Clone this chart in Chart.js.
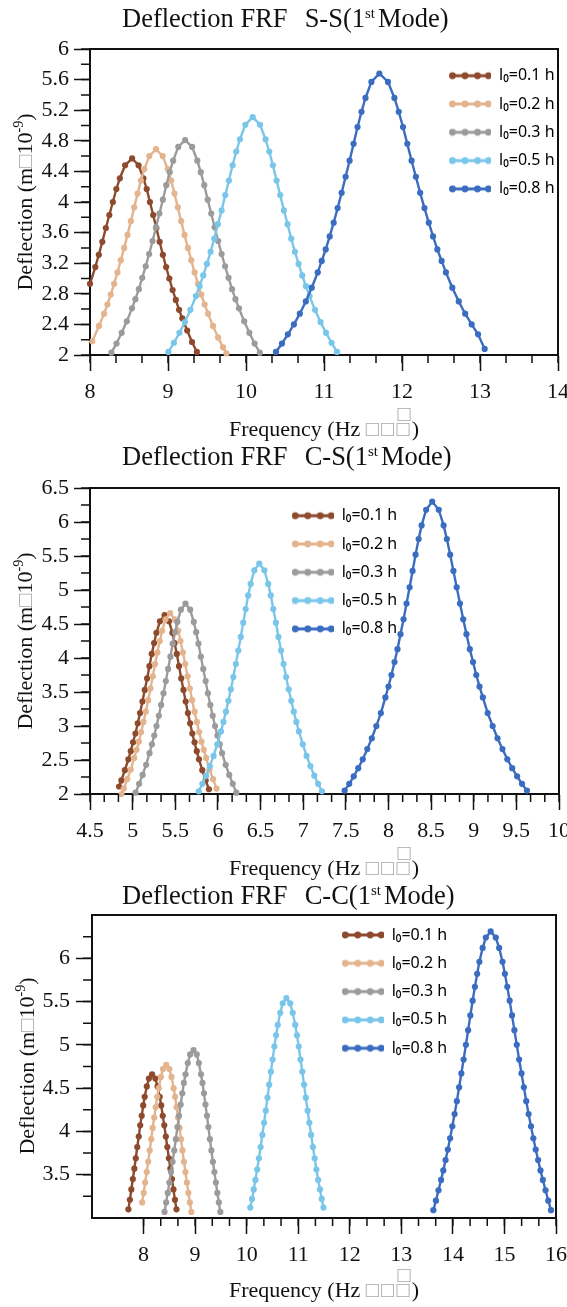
<!DOCTYPE html>
<html lang="en">
<head>
<meta charset="UTF-8">
<title>Deflection FRF</title>
<script src="https://cdn.jsdelivr.net/npm/chart.js"></script>
<style>
  body { margin: 0; background: #fff; }
  #page { position: relative; width: 567px; height: 1307px; overflow: hidden; color: #111;
          font-family: 'Liberation Serif', 'Times New Roman', serif; }
  canvas { position: absolute; left: 0; }
  .title { position: absolute; left: 122px; font-size: 26.5px; line-height: 26px; white-space: nowrap; }
  .title .gap { display: inline-block; width: 17px; }
  .title .st { font-size: 15px; vertical-align: 9px; line-height: 0; margin-right: 3px; }
  .xtitle { position: absolute; left: 324px; transform: translateX(-50%); font-size: 22px; line-height: 22px; white-space: nowrap; }
  .ytitle { position: absolute; font-size: 22px; line-height: 22px; white-space: nowrap;
            transform: translate(-50%, -50%) rotate(-90deg); }
  .ytitle sup { font-size: 14px; line-height: 0; vertical-align: 9px; }
  .tofu { color: #a8a8a8; }
  .xtitle .tofu { letter-spacing: 2px; }
  .stack { position: relative; }
  .stack .up { position: absolute; left: 1px; top: -13px; }
</style>
</head>
<body>
<div id="page">
  <canvas id="chartSS" width="567" height="440" style="top:0px"></canvas>
  <canvas id="chartCS" width="567" height="430" style="top:440px"></canvas>
  <canvas id="chartCC" width="567" height="437" style="top:870px"></canvas>

  <div class="title" style="top:5px">Deflection FRF<span class="gap"></span>S-S(1<span class="st">st</span>Mode)</div>
  <div class="title" style="top:443px">Deflection FRF<span class="gap"></span>C-S(1<span class="st">st</span>Mode)</div>
  <div class="title" style="top:882px">Deflection FRF<span class="gap"></span>C-C(1<span class="st">st</span>Mode)</div>

  <div class="ytitle" style="left:25px; top:202px">Deflection (m<span class="tofu">□</span>10<sup>-9</sup>)</div>
  <div class="ytitle" style="left:25px; top:641px">Deflection (m<span class="tofu">□</span>10<sup>-9</sup>)</div>
  <div class="ytitle" style="left:27px; top:1066px">Deflection (m<span class="tofu">□</span>10<sup>-9</sup>)</div>

  <div class="xtitle" style="top:418px">Frequency (Hz <span class="tofu">□□<span class="stack">□<span class="up">□</span></span></span>)</div>
  <div class="xtitle" style="top:857px">Frequency (Hz <span class="tofu">□□<span class="stack">□<span class="up">□</span></span></span>)</div>
  <div class="xtitle" style="top:1279px">Frequency (Hz <span class="tofu">□□<span class="stack">□<span class="up">□</span></span></span>)</div>
</div>

<script>
// ---- S-S (simply supported) ----
const ssFreq01 = [8.0, 8.068, 8.113, 8.158, 8.203, 8.248, 8.293, 8.338, 8.383, 8.45, 8.54, 8.623, 8.685, 8.727, 8.768, 8.81, 8.851, 8.893, 8.934, 8.976, 9.017, 9.059, 9.1, 9.142, 9.183, 9.246, 9.308, 9.37];
const ssDefl01 = [2.93, 3.15, 3.31, 3.48, 3.66, 3.83, 4.00, 4.17, 4.31, 4.48, 4.57, 4.48, 4.31, 4.17, 4.00, 3.83, 3.66, 3.48, 3.31, 3.15, 3.00, 2.85, 2.72, 2.59, 2.48, 2.32, 2.17, 2.04];
const ssFreq02 = [8.029, 8.115, 8.18, 8.223, 8.266, 8.309, 8.352, 8.395, 8.438, 8.481, 8.524, 8.567, 8.61, 8.653, 8.696, 8.76, 8.846, 8.932, 8.997, 9.04, 9.083, 9.126, 9.169, 9.212, 9.255, 9.298, 9.341, 9.384, 9.427, 9.47, 9.513, 9.577, 9.642, 9.706, 9.749];
const ssDefl02 = [2.18, 2.38, 2.54, 2.66, 2.79, 2.93, 3.08, 3.24, 3.40, 3.57, 3.75, 3.93, 4.11, 4.28, 4.43, 4.60, 4.69, 4.60, 4.43, 4.28, 4.11, 3.93, 3.75, 3.57, 3.40, 3.24, 3.08, 2.93, 2.79, 2.66, 2.54, 2.38, 2.23, 2.10, 2.02];
const ssFreq03 = [8.274, 8.34, 8.406, 8.472, 8.538, 8.582, 8.626, 8.67, 8.714, 8.758, 8.802, 8.846, 8.89, 8.934, 8.978, 9.022, 9.066, 9.132, 9.22, 9.309, 9.376, 9.42, 9.465, 9.509, 9.554, 9.598, 9.643, 9.687, 9.732, 9.776, 9.821, 9.865, 9.91, 9.977, 10.043, 10.11, 10.177];
const ssDefl03 = [2.03, 2.15, 2.29, 2.44, 2.61, 2.73, 2.86, 3.01, 3.16, 3.32, 3.49, 3.67, 3.85, 4.03, 4.22, 4.39, 4.54, 4.72, 4.81, 4.72, 4.54, 4.39, 4.22, 4.03, 3.85, 3.67, 3.49, 3.32, 3.16, 3.01, 2.86, 2.73, 2.61, 2.44, 2.29, 2.15, 2.03];
const ssFreq05 = [9.005, 9.076, 9.146, 9.217, 9.287, 9.358, 9.405, 9.452, 9.499, 9.546, 9.593, 9.64, 9.687, 9.734, 9.781, 9.828, 9.875, 9.922, 9.992, 10.086, 10.18, 10.251, 10.298, 10.345, 10.392, 10.439, 10.486, 10.533, 10.58, 10.627, 10.674, 10.721, 10.768, 10.815, 10.885, 10.956, 11.026, 11.097, 11.167];
const ssDefl05 = [2.04, 2.16, 2.29, 2.43, 2.59, 2.77, 2.90, 3.04, 3.19, 3.35, 3.52, 3.71, 3.89, 4.09, 4.28, 4.48, 4.66, 4.82, 5.01, 5.11, 5.01, 4.82, 4.66, 4.48, 4.28, 4.09, 3.89, 3.71, 3.52, 3.35, 3.19, 3.04, 2.90, 2.77, 2.59, 2.43, 2.29, 2.16, 2.04];
const ssFreq08 = [10.384, 10.461, 10.537, 10.614, 10.69, 10.767, 10.843, 10.92, 10.971, 11.022, 11.073, 11.124, 11.175, 11.226, 11.277, 11.328, 11.379, 11.43, 11.481, 11.532, 11.608, 11.71, 11.82, 11.903, 11.958, 12.013, 12.068, 12.123, 12.178, 12.233, 12.288, 12.343, 12.398, 12.453, 12.508, 12.563, 12.645, 12.728, 12.81, 12.893, 12.975, 13.06];
const ssDefl08 = [2.04, 2.15, 2.27, 2.40, 2.54, 2.70, 2.88, 3.08, 3.23, 3.38, 3.55, 3.73, 3.92, 4.12, 4.33, 4.54, 4.76, 4.98, 5.18, 5.36, 5.57, 5.68, 5.57, 5.36, 5.18, 4.98, 4.76, 4.54, 4.33, 4.12, 3.92, 3.73, 3.55, 3.38, 3.23, 3.08, 2.88, 2.70, 2.54, 2.40, 2.27, 2.08];

// ---- C-S (clamped - simply supported) ----
const csFreq01 = [4.841, 4.868, 4.909, 4.950, 4.978, 5.005, 5.033, 5.060, 5.087, 5.115, 5.142, 5.170, 5.197, 5.224, 5.252, 5.279, 5.320, 5.375, 5.427, 5.466, 5.492, 5.518, 5.544, 5.57, 5.596, 5.622, 5.648, 5.674, 5.70, 5.726, 5.752, 5.778, 5.817, 5.856, 5.895];
const csDefl01 = [2.11, 2.20, 2.35, 2.51, 2.63, 2.76, 2.89, 3.04, 3.19, 3.36, 3.53, 3.70, 3.88, 4.06, 4.22, 4.37, 4.54, 4.63, 4.54, 4.37, 4.22, 4.06, 3.88, 3.70, 3.53, 3.36, 3.19, 3.04, 2.89, 2.76, 2.63, 2.51, 2.35, 2.20, 2.07];
const csFreq02 = [4.869, 4.896, 4.937, 4.978, 5.018, 5.046, 5.073, 5.10, 5.127, 5.154, 5.182, 5.209, 5.236, 5.263, 5.29, 5.318, 5.345, 5.386, 5.44, 5.494, 5.535, 5.562, 5.59, 5.617, 5.644, 5.671, 5.698, 5.726, 5.753, 5.78, 5.807, 5.834, 5.862, 5.902, 5.943, 5.984];
const csDefl02 = [2.00, 2.08, 2.22, 2.36, 2.53, 2.65, 2.77, 2.91, 3.06, 3.21, 3.38, 3.55, 3.73, 3.91, 4.08, 4.25, 4.40, 4.57, 4.66, 4.57, 4.40, 4.25, 4.08, 3.91, 3.73, 3.55, 3.38, 3.21, 3.06, 2.91, 2.77, 2.65, 2.53, 2.36, 2.22, 2.08];
const csFreq03 = [5.035, 5.076, 5.117, 5.158, 5.198, 5.226, 5.253, 5.28, 5.307, 5.334, 5.362, 5.389, 5.416, 5.443, 5.47, 5.498, 5.525, 5.566, 5.62, 5.675, 5.717, 5.745, 5.772, 5.80, 5.828, 5.856, 5.883, 5.911, 5.939, 5.966, 5.994, 6.022, 6.049, 6.091, 6.133, 6.174, 6.216];
const csDefl03 = [2.02, 2.15, 2.28, 2.43, 2.60, 2.73, 2.86, 3.00, 3.15, 3.31, 3.48, 3.66, 3.84, 4.02, 4.21, 4.38, 4.53, 4.71, 4.80, 4.71, 4.53, 4.38, 4.21, 4.02, 3.84, 3.66, 3.48, 3.31, 3.15, 3.00, 2.86, 2.73, 2.60, 2.43, 2.28, 2.15, 2.02];
const csFreq05 = [5.775, 5.818, 5.862, 5.905, 5.949, 5.992, 6.036, 6.065, 6.094, 6.123, 6.152, 6.181, 6.21, 6.239, 6.268, 6.297, 6.326, 6.355, 6.384, 6.427, 6.485, 6.545, 6.59, 6.62, 6.65, 6.68, 6.71, 6.74, 6.77, 6.80, 6.83, 6.86, 6.89, 6.92, 6.95, 6.995, 7.04, 7.085, 7.13, 7.175, 7.22];
const csDefl05 = [2.04, 2.15, 2.27, 2.41, 2.56, 2.73, 2.92, 3.06, 3.21, 3.37, 3.54, 3.72, 3.91, 4.11, 4.31, 4.52, 4.72, 4.92, 5.09, 5.29, 5.39, 5.29, 5.09, 4.92, 4.72, 4.52, 4.31, 4.11, 3.91, 3.72, 3.54, 3.37, 3.21, 3.06, 2.92, 2.73, 2.56, 2.41, 2.27, 2.15, 2.04];
const csFreq08 = [7.486, 7.54, 7.593, 7.646, 7.699, 7.752, 7.805, 7.858, 7.911, 7.964, 8.0, 8.035, 8.071, 8.106, 8.141, 8.177, 8.212, 8.248, 8.283, 8.318, 8.354, 8.389, 8.442, 8.513, 8.59, 8.647, 8.685, 8.724, 8.762, 8.80, 8.839, 8.877, 8.915, 8.954, 8.992, 9.03, 9.068, 9.107, 9.164, 9.222, 9.279, 9.337, 9.394, 9.451, 9.509, 9.566, 9.624];
const csDefl08 = [2.05, 2.15, 2.26, 2.38, 2.51, 2.66, 2.82, 3.00, 3.19, 3.42, 3.58, 3.75, 3.94, 4.13, 4.35, 4.57, 4.80, 5.04, 5.28, 5.52, 5.75, 5.95, 6.18, 6.30, 6.18, 5.95, 5.75, 5.52, 5.28, 5.04, 4.80, 4.57, 4.35, 4.13, 3.94, 3.75, 3.58, 3.42, 3.19, 3.00, 2.82, 2.66, 2.51, 2.38, 2.26, 2.15, 2.05];

// ---- C-C (clamped - clamped) ----
const ccFreq01 = [7.706, 7.735, 7.763, 7.792, 7.821, 7.849, 7.878, 7.907, 7.935, 7.964, 7.993, 8.022, 8.063, 8.104, 8.165, 8.229, 8.271, 8.313, 8.343, 8.372, 8.402, 8.432, 8.461, 8.491, 8.52, 8.55, 8.58, 8.609, 8.639];
const ccDefl01 = [3.10, 3.21, 3.33, 3.45, 3.57, 3.69, 3.82, 3.94, 4.07, 4.18, 4.30, 4.40, 4.52, 4.61, 4.66, 4.61, 4.52, 4.40, 4.30, 4.18, 4.07, 3.94, 3.82, 3.69, 3.57, 3.45, 3.33, 3.21, 3.10];
const ccFreq02 = [7.973, 8.002, 8.031, 8.061, 8.09, 8.119, 8.148, 8.177, 8.207, 8.236, 8.265, 8.294, 8.336, 8.377, 8.44, 8.501, 8.542, 8.583, 8.612, 8.64, 8.669, 8.698, 8.726, 8.755, 8.784, 8.812, 8.841, 8.869, 8.898, 8.927];
const ccDefl02 = [3.18, 3.29, 3.41, 3.53, 3.65, 3.78, 3.91, 4.04, 4.16, 4.28, 4.40, 4.50, 4.63, 4.72, 4.77, 4.72, 4.63, 4.50, 4.40, 4.28, 4.16, 4.04, 3.91, 3.78, 3.65, 3.53, 3.41, 3.29, 3.18, 3.07];
const ccFreq03 = [8.407, 8.438, 8.469, 8.501, 8.532, 8.563, 8.595, 8.626, 8.657, 8.688, 8.72, 8.751, 8.782, 8.814, 8.858, 8.903, 8.97, 9.032, 9.073, 9.114, 9.143, 9.172, 9.201, 9.23, 9.258, 9.287, 9.316, 9.345, 9.374, 9.403, 9.431, 9.46, 9.489];
const ccDefl03 = [3.07, 3.18, 3.29, 3.41, 3.53, 3.65, 3.78, 3.91, 4.05, 4.18, 4.31, 4.44, 4.56, 4.66, 4.79, 4.89, 4.94, 4.89, 4.79, 4.66, 4.56, 4.44, 4.31, 4.18, 4.05, 3.91, 3.78, 3.65, 3.53, 3.41, 3.29, 3.18, 3.07];
const ccFreq05 = [10.07, 10.104, 10.137, 10.17, 10.204, 10.237, 10.27, 10.304, 10.337, 10.37, 10.404, 10.437, 10.47, 10.503, 10.537, 10.57, 10.603, 10.651, 10.699, 10.77, 10.844, 10.893, 10.942, 10.976, 11.01, 11.044, 11.079, 11.113, 11.147, 11.182, 11.216, 11.25, 11.285, 11.319, 11.353, 11.387, 11.422, 11.456, 11.49];
const ccDefl05 = [3.12, 3.22, 3.33, 3.44, 3.56, 3.69, 3.82, 3.96, 4.10, 4.24, 4.39, 4.54, 4.69, 4.83, 4.98, 5.11, 5.23, 5.37, 5.48, 5.54, 5.48, 5.37, 5.23, 5.11, 4.98, 4.83, 4.69, 4.54, 4.39, 4.24, 4.10, 3.96, 3.82, 3.69, 3.56, 3.44, 3.33, 3.22, 3.12];
const ccFreq08 = [13.621, 13.671, 13.721, 13.771, 13.814, 13.858, 13.902, 13.946, 13.989, 14.033, 14.077, 14.121, 14.164, 14.208, 14.252, 14.296, 14.339, 14.383, 14.427, 14.471, 14.514, 14.577, 14.639, 14.733, 14.832, 14.897, 14.963, 15.009, 15.055, 15.101, 15.147, 15.193, 15.239, 15.285, 15.331, 15.377, 15.423, 15.469, 15.515, 15.561, 15.607, 15.653, 15.699, 15.745, 15.797, 15.85, 15.903];
const ccDefl08 = [3.09, 3.20, 3.32, 3.44, 3.55, 3.67, 3.79, 3.92, 4.06, 4.20, 4.35, 4.51, 4.67, 4.83, 5.00, 5.17, 5.34, 5.51, 5.67, 5.82, 5.96, 6.12, 6.24, 6.31, 6.24, 6.12, 5.96, 5.82, 5.67, 5.51, 5.34, 5.17, 5.00, 4.83, 4.67, 4.51, 4.35, 4.20, 4.06, 3.92, 3.79, 3.67, 3.55, 3.44, 3.32, 3.20, 3.09];

const seriesLabels = ['l\u2080=0.1 h', 'l\u2080=0.2 h', 'l\u2080=0.3 h', 'l\u2080=0.5 h', 'l\u2080=0.8 h'];

// tick labels
const ssXTicks = [8, 9, 10, 11, 12, 13, 14];
const ssYTicks = [2, 2.4, 2.8, 3.2, 3.6, 4, 4.4, 4.8, 5.2, 5.6, 6];
const csXTicks = [4.5, 5, 5.5, 6, 6.5, 7, 7.5, 8, 8.5, 9, 9.5, 10];
const csYTicks = [2, 2.5, 3, 3.5, 4, 4.5, 5, 5.5, 6, 6.5];
const ccXTicks = [8, 9, 10, 11, 12, 13, 14, 15, 16];
const ccYTicks = [3.5, 4, 4.5, 5, 5.5, 6];

const colors = ['#8d4a2d', '#e3b48d', '#9b9b9b', '#7ac6eb', '#3a6cc0'];
const tickFont = { family: "'Liberation Serif', 'Times New Roman', serif", size: 22 };
const legendFont = { family: "'Noto Sans', 'DejaVu Sans', sans-serif", size: 16 };

// small line + 4 dots sample for the legend
function legendSample(color) {
  const c = document.createElement('canvas');
  c.width = 42; c.height = 10;
  const g = c.getContext('2d');
  g.strokeStyle = color; g.lineWidth = 2.8;
  g.beginPath(); g.moveTo(0.5, 5); g.lineTo(41.5, 5); g.stroke();
  g.fillStyle = color;
  [3.5, 16, 28.5, 39.5].forEach(x => { g.beginPath(); g.arc(x, 5, 3.4, 0, Math.PI * 2); g.fill(); });
  return c;
}
const samples = colors.map(legendSample);

function series(freq, defl, i) {
  return {
    label: seriesLabels[i],
    data: freq.map((f, k) => ({ x: f, y: defl[k] })),
    borderColor: colors[i], backgroundColor: colors[i],
    pointBackgroundColor: colors[i], borderWidth: 2.4,
    pointRadius: 3.1, pointHoverRadius: 3.1, pointBorderWidth: 0,
    tension: 0, clip: false, order: 4 - i
  };
}

function axis(min, max, tickVals, size, pad) {
  return {
    type: 'linear', min: min, max: max,
    afterBuildTicks: s => { s.ticks = tickVals.map(v => ({ value: v })); },
    afterFit: s => {
      if (s.isHorizontal()) s.height = size; else s.width = size;
      s.paddingLeft = s.paddingRight = s.paddingTop = s.paddingBottom = 0;
    },
    grid: { drawOnChartArea: false, drawTicks: true, tickLength: 16, tickColor: '#111', tickWidth: 1.5 },
    border: { display: true, color: '#111', width: 2 },
    ticks: { color: '#111', padding: pad, autoSkip: false, maxRotation: 0, font: tickFont, callback: v => String(v) }
  };
}

// frame on top/right, minor tick marks, legend placement
const framePlugin = {
  id: 'frame',
  afterLayout(chart, args, o) {
    const lg = chart.legend;
    lg.left = o.legendX; lg.top = o.legendY;
    lg.right = lg.left + 160; lg.bottom = lg.top + 170;
  },
  afterDraw(chart, args, o) {
    const { ctx, chartArea: a, scales } = chart;
    ctx.save();
    ctx.strokeStyle = '#111';
    ctx.lineWidth = 2;
    ctx.beginPath();
    ctx.moveTo(a.left, a.top); ctx.lineTo(a.right, a.top); ctx.lineTo(a.right, a.bottom);
    ctx.stroke();
    ctx.lineWidth = 1.5;
    ctx.beginPath();
    for (let k = 0; ; k++) {
      const v = o.xMinor[0] + k * o.xMinor[2];
      if (v > o.xMinor[1] + 1e-6) break;
      const px = scales.x.getPixelForValue(v);
      ctx.moveTo(px, a.bottom); ctx.lineTo(px, a.bottom + 8);
    }
    for (let k = 0; ; k++) {
      const v = o.yMinor[0] + k * o.yMinor[2];
      if (v > o.yMinor[1] + 1e-6) break;
      const py = scales.y.getPixelForValue(v);
      ctx.moveTo(a.left, py); ctx.lineTo(a.left - 9, py);
    }
    ctx.stroke();
    ctx.restore();
  }
};

function makeChart(id, sets, xr, yr, box, frame) {
  return new Chart(document.getElementById(id), {
    type: 'line',
    data: { datasets: sets.map((s, i) => series(s[0], s[1], i)) },
    options: {
      responsive: false, animation: false, events: [],
      layout: { padding: { left: 0, top: box.top, right: box.right, bottom: 0 } },
      scales: {
        x: axis(xr[0], xr[1], xr[2], box.xh, 8),
        y: axis(yr[0], yr[1], yr[2], box.yw, box.ypad)
      },
      plugins: {
        title: { display: false },
        tooltip: { enabled: false },
        legend: {
          position: 'chartArea', align: 'start',
          labels: {
            usePointStyle: true, pointStyleWidth: 42, padding: 12.3,
            font: legendFont, color: '#111',
            generateLabels: ch => ch.data.datasets.map((d, i) => ({
              text: d.label, pointStyle: samples[i], fillStyle: colors[i],
              strokeStyle: colors[i], lineWidth: 0, hidden: false, datasetIndex: i
            }))
          }
        },
        frame: frame
      }
    },
    plugins: [framePlugin]
  });
}

makeChart('chartSS',
  [[ssFreq01, ssDefl01], [ssFreq02, ssDefl02], [ssFreq03, ssDefl03], [ssFreq05, ssDefl05], [ssFreq08, ssDefl08]],
  [8, 14, ssXTicks], [2, 6, ssYTicks],
  { top: 49, right: 9, xh: 85, yw: 90, ypad: 5 },
  { legendX: 436.7, legendY: 55.4, xMinor: [8, 14, 1 / 3], yMinor: [2, 6, 0.2] });

makeChart('chartCS',
  [[csFreq01, csDefl01], [csFreq02, csDefl02], [csFreq03, csDefl03], [csFreq05, csDefl05], [csFreq08, csDefl08]],
  [4.5, 10, csXTicks], [2, 6.5, csYTicks],
  { top: 48, right: 8, xh: 76, yw: 90, ypad: 5 },
  { legendX: 279.4, legendY: 55.4, xMinor: [4.5, 10, 1 / 6], yMinor: [2, 6.5, 0.25] });

makeChart('chartCC',
  [[ccFreq01, ccDefl01], [ccFreq02, ccDefl02], [ccFreq03, ccDefl03], [ccFreq05, ccDefl05], [ccFreq08, ccDefl08]],
  [7, 16, ccXTicks], [3, 6.5, ccYTicks],
  { top: 45, right: 11, xh: 89, yw: 92, ypad: 6 },
  { legendX: 329.4, legendY: 44.7, xMinor: [8, 16, 1 / 3], yMinor: [3.25, 6.25, 0.25] });
</script>
</body>
</html>
